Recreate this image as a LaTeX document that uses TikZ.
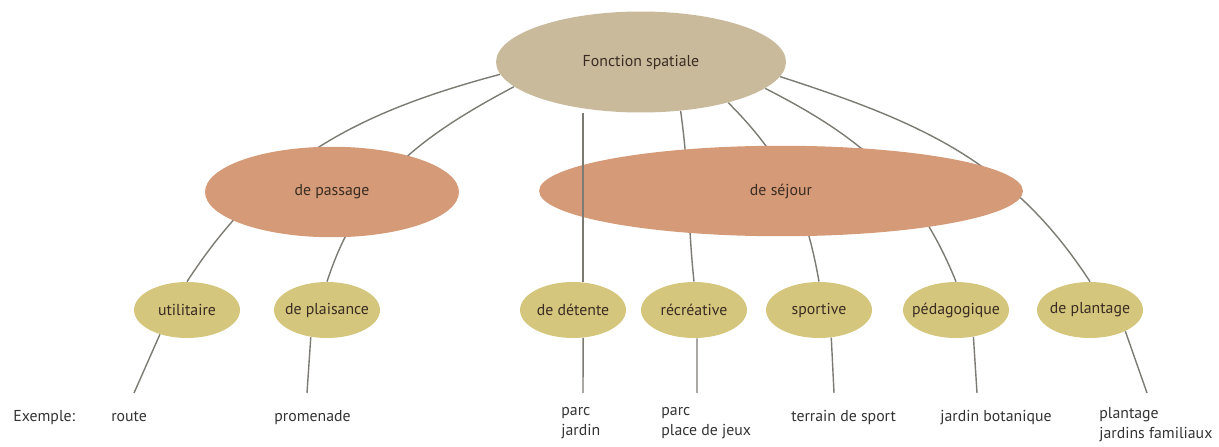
\documentclass[tikz,border=0pt]{standalone}
\usepackage{fontspec}
\setmainfont{PT Sans}
\usepackage{tikz}
\usetikzlibrary{shapes.geometric, backgrounds}
\definecolor{fstan}{HTML}{C9BA9C}
\definecolor{fssalmon}{HTML}{D59A77}
\definecolor{fsolive}{HTML}{D4C67C}
\definecolor{fsline}{HTML}{7C7B73}
\definecolor{fstext}{HTML}{3A2C22}
\definecolor{fsgray}{HTML}{333333}

\begin{document}
\begin{tikzpicture}[
        font=\fontsize{9}{11.4}\selectfont,
        x=0.02cm, y=-0.02cm,
        rootnode/.style={ellipse, fill=fstan, minimum width=5.8cm, minimum height=2.02cm,
                         inner sep=0pt, label={[text=fstext]center:#1}},
        midnode/.style={ellipse, fill=fssalmon, minimum height=1.81cm,
                        inner sep=0pt, label={[text=fstext]center:#1}},
        leaf/.style={ellipse, fill=fsolive, minimum width=2.12cm, minimum height=1.12cm,
                     inner sep=0pt, label={[text=fstext]center:#1}},
        example/.style={anchor=north west, align=left, inner sep=0pt, text=fsgray,
                        execute at begin node=\strut},
        link/.style={draw=fsline, line width=0.8pt}
    ]
        \useasboundingbox (0,0) rectangle (1219,446);

        \node[rootnode=Fonction spatiale] (fs) at (641,62) {};

        \node[midnode=de passage, minimum width=5.08cm] (pass) at (332,192) {};
        \node[midnode=de séjour, minimum width=9.68cm] (sej) at (781,191) {};

        \node[leaf=utilitaire]   (util)  at (187,310) {};
        \node[leaf=de plaisance] (plais) at (327,310) {};
        \node[leaf=de détente]   (det)   at (573,310) {};
        \node[leaf=récréative]   (recr)  at (694,310) {};
        \node[leaf=sportive]     (sport) at (819,310) {};
        \node[leaf=pédagogique]  (peda)  at (956,310) {};
        \node[leaf=de plantage]  (plant) at (1090,310) {};

        % exemples
        \node[example] (ex0) at (13,407)   {Exemple:};
        \node[example] (ex1) at (111,407)  {route};
        \node[example] (ex2) at (274,407)  {promenade};
        \node[example] (ex3) at (561,407)  {parc\\jardin};
        \node[example] (ex4) at (661,407)  {parc\\place de jeux};
        \node[example] (ex5) at (791,407)  {terrain de sport};
        \node[example] (ex6) at (940,407)  {jardin botanique};
        \node[example] (ex7) at (1099,407) {plantage\\jardins familiaux};

        \coordinate (e1) at (134,393);
        \coordinate (e2) at (307,393);
        \coordinate (e3) at (583,393);
        \coordinate (e4) at (697,393);
        \coordinate (e5) at (834,393);
        \coordinate (e6) at (977,393);
        \coordinate (e7) at (1147,393);

        \begin{scope}[on background layer]
            \draw[link] (fs.185.7) to[out=195, in=57] (util.north);
            \draw[link] (fs.191.5) to[out=208, in=72] (plais.north);
            \draw[link] (fs.309) to[out=-82, in=96] (recr.north);
            \draw[link] (fs.335) to[out=-45, in=100] (sport.north);
            \draw[link] (fs.348) to[out=-27, in=112] (peda.north);
            \draw[link] (fs.354) to[out=-18, in=123] (plant.north);
        \end{scope}

        % passes over de sejour
        \draw[link] (det.70) -- (det.70 |- fs.south);

        \draw[link] (util.222) -- (e1);
        \draw[link] (plais.239) -- (e2);
        \draw[link] (det.-70) -- (e3);
        \draw[link] (recr.-84) -- (e4);
        \draw[link] (sport.-66) -- (e5);
        \draw[link] (peda.-57) -- (e6);
        \draw[link] (plant.-31) -- (e7);
    \end{tikzpicture}
\end{document}
